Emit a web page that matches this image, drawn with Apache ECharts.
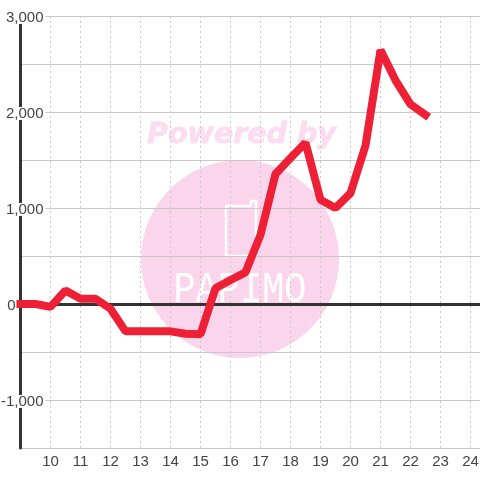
<!DOCTYPE html>
<html><head><meta charset="utf-8">
<style>html,body{margin:0;padding:0;background:#fff}#c{width:480px;height:480px}</style>
<script src="https://cdn.jsdelivr.net/npm/echarts@6/dist/echarts.min.js"></script>
</head><body><div id="c"></div>
<script>
const hours = [9,9.5,10,10.5,11,11.5,12,12.5,13,13.5,14,14.5,15,15.5,16,16.5,17,17.5,18,18.5,19,19.5,20,20.5,21,21.5,22,22.5];
const values = [0,0,-30,140,55,55,-50,-285,-285,-285,-285,-310,-315,165,250,330,720,1355,1520,1680,1085,1000,1155,1650,2645,2330,2080,1970];
const font = '"Liberation Sans", Arial, sans-serif';
const chart = echarts.init(document.getElementById('c'), null, {renderer:'canvas'});
chart.setOption({
  animation:false,
  backgroundColor:'#fff',
  grid:{left:20.5,right:0,top:16,bottom:32,outerBoundsMode:'none'},
  xAxis:[{
    type:'value',min:9,max:24.3167,interval:1,position:'bottom',
    axisLine:{show:false,onZero:false},axisTick:{show:false},
    axisLabel:{color:'#444',fontFamily:font,fontSize:15,margin:6,showMaxLabel:false,
      formatter:v=>v===9?'':String(v)},
    splitLine:{show:true,lineStyle:{color:'#c8c8c8',width:1,type:[2,3]}}
  },{
    type:'value',min:9,max:24.3167,interval:1,position:'top',
    axisLine:{show:true,onZero:true,lineStyle:{color:'#333',width:3}},
    axisTick:{show:false},axisLabel:{show:false},splitLine:{show:false}
  }],
  yAxis:{
    type:'value',min:-1500,max:3000,interval:500,
    axisLine:{show:true,onZero:false,lineStyle:{color:'#333',width:3}},
    axisTick:{show:false},
    axisLabel:{inside:true,align:'right',margin:25,padding:[3,0,0,0],
      formatter:v=>v===0?'{z|0}':(v%1000===0?'{b|'+v.toLocaleString('en-US')+'}':''),
      rich:{
        b:{color:'#444',fontFamily:font,fontSize:15,lineHeight:13,height:13,backgroundColor:'#fff',padding:[0,2,0,0]},
        z:{color:'#444',fontFamily:font,fontSize:15,lineHeight:13,height:13,padding:[0,30,0,0]}
      }},
    splitLine:{show:true,lineStyle:{color:'#c8c8c8',width:1,type:'solid'}}
  },
  graphic:[
    {type:'circle',z:-1,shape:{cx:240,cy:259,r:99},style:{fill:'#fbd5ec'}},
    {type:'text',z:-1,x:241.5,y:136,style:{text:'Powered by',font:'italic bold 28.5px "DejaVu Sans"',fill:'#fcdcf0',stroke:'#fcdcf0',lineWidth:0.8,align:'center',verticalAlign:'middle'}},
    {type:'text',z:-1,x:240,y:290,scaleX:0.82,style:{text:'PAPIMO',font:'45px "Liberation Mono"',fill:'#fff',align:'center',verticalAlign:'middle'}},
    {type:'polyline',z:-1,shape:{points:[[251,206],[226,206],[226,256],[256,256],[256,201],[251,201],[251,206]]},style:{fill:'none',stroke:'#fff',lineWidth:2.5,lineJoin:'round'}}
  ],
  series:[{
    type:'line',data:hours.map((h,i)=>[h,values[i]]),showSymbol:false,smooth:false,z:5,
    lineStyle:{color:'#ee2036',width:8,cap:'square',join:'bevel'}
  }]
});
</script></body></html>
